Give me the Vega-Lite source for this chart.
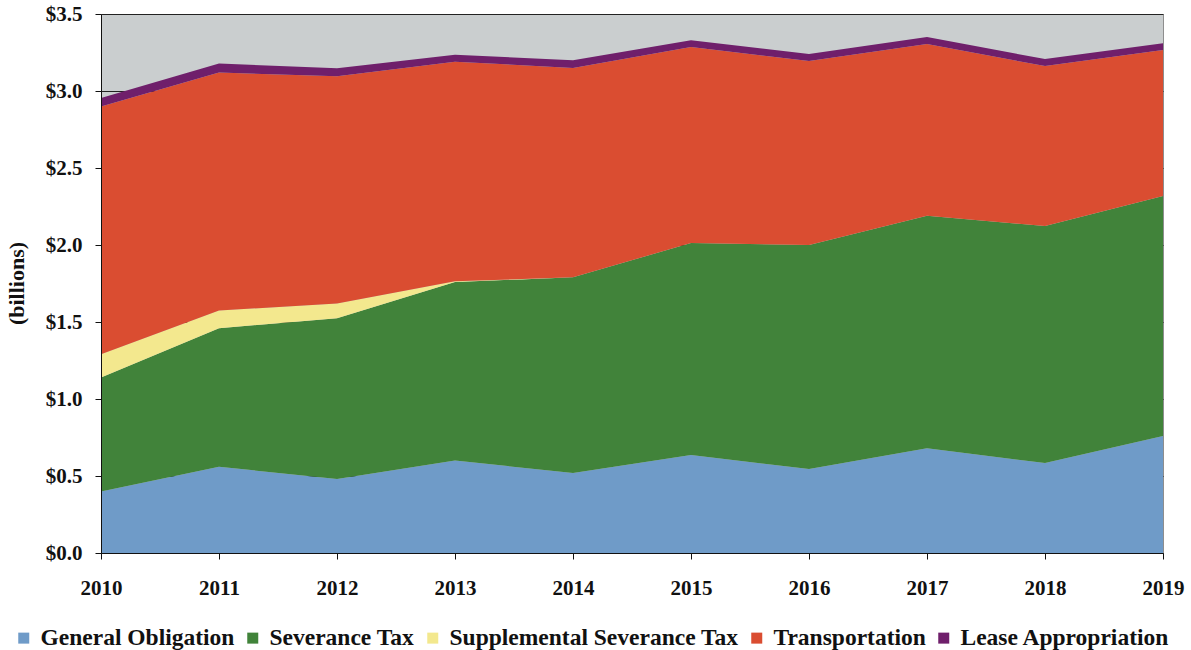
{
  "$schema": "https://vega.github.io/schema/vega-lite/v6.json",
  "width": 1062,
  "height": 539,
  "autosize": "none",
  "padding": {"left": 101, "top": 14, "right": 28, "bottom": 97},
  "background": "white",
  "config": {
    "view": {"fill": "#CACECF", "stroke": "#8E8E8E", "strokeWidth": 1},
    "font": "Liberation Serif",
    "legend": {
      "orient": "none",
      "legendX": -89,
      "legendY": 612,
      "direction": "horizontal",
      "symbolType": "square",
      "symbolSize": 121,
      "symbolStrokeWidth": 0,
      "labelFont": "Liberation Serif",
      "labelFontWeight": "bold",
      "labelFontSize": 23.5,
      "labelColor": "#111111",
      "labelOffset": 5,
      "columnPadding": 6,
      "labelLimit": 400
    }
  },
  "data": {
    "values": [
      {"year": 2010, "series": "General Obligation", "value": 0.40},
      {"year": 2010, "series": "Severance Tax", "value": 0.74},
      {"year": 2010, "series": "Supplemental Severance Tax", "value": 0.15},
      {"year": 2010, "series": "Transportation", "value": 1.61},
      {"year": 2010, "series": "Lease Appropriation", "value": 0.055},
      {"year": 2011, "series": "General Obligation", "value": 0.56},
      {"year": 2011, "series": "Severance Tax", "value": 0.90},
      {"year": 2011, "series": "Supplemental Severance Tax", "value": 0.115},
      {"year": 2011, "series": "Transportation", "value": 1.545},
      {"year": 2011, "series": "Lease Appropriation", "value": 0.058},
      {"year": 2012, "series": "General Obligation", "value": 0.48},
      {"year": 2012, "series": "Severance Tax", "value": 1.045},
      {"year": 2012, "series": "Supplemental Severance Tax", "value": 0.095},
      {"year": 2012, "series": "Transportation", "value": 1.475},
      {"year": 2012, "series": "Lease Appropriation", "value": 0.053},
      {"year": 2013, "series": "General Obligation", "value": 0.60},
      {"year": 2013, "series": "Severance Tax", "value": 1.16},
      {"year": 2013, "series": "Supplemental Severance Tax", "value": 0.005},
      {"year": 2013, "series": "Transportation", "value": 1.425},
      {"year": 2013, "series": "Lease Appropriation", "value": 0.045},
      {"year": 2014, "series": "General Obligation", "value": 0.52},
      {"year": 2014, "series": "Severance Tax", "value": 1.27},
      {"year": 2014, "series": "Supplemental Severance Tax", "value": 0},
      {"year": 2014, "series": "Transportation", "value": 1.36},
      {"year": 2014, "series": "Lease Appropriation", "value": 0.05},
      {"year": 2015, "series": "General Obligation", "value": 0.636},
      {"year": 2015, "series": "Severance Tax", "value": 1.377},
      {"year": 2015, "series": "Supplemental Severance Tax", "value": 0},
      {"year": 2015, "series": "Transportation", "value": 1.273},
      {"year": 2015, "series": "Lease Appropriation", "value": 0.044},
      {"year": 2016, "series": "General Obligation", "value": 0.545},
      {"year": 2016, "series": "Severance Tax", "value": 1.455},
      {"year": 2016, "series": "Supplemental Severance Tax", "value": 0},
      {"year": 2016, "series": "Transportation", "value": 1.195},
      {"year": 2016, "series": "Lease Appropriation", "value": 0.045},
      {"year": 2017, "series": "General Obligation", "value": 0.68},
      {"year": 2017, "series": "Severance Tax", "value": 1.51},
      {"year": 2017, "series": "Supplemental Severance Tax", "value": 0},
      {"year": 2017, "series": "Transportation", "value": 1.115},
      {"year": 2017, "series": "Lease Appropriation", "value": 0.045},
      {"year": 2018, "series": "General Obligation", "value": 0.584},
      {"year": 2018, "series": "Severance Tax", "value": 1.539},
      {"year": 2018, "series": "Supplemental Severance Tax", "value": 0},
      {"year": 2018, "series": "Transportation", "value": 1.039},
      {"year": 2018, "series": "Lease Appropriation", "value": 0.045},
      {"year": 2019, "series": "General Obligation", "value": 0.76},
      {"year": 2019, "series": "Severance Tax", "value": 1.558},
      {"year": 2019, "series": "Supplemental Severance Tax", "value": 0},
      {"year": 2019, "series": "Transportation", "value": 0.948},
      {"year": 2019, "series": "Lease Appropriation", "value": 0.044}
    ]
  },
  "transform": [
    {"calculate": "indexof(['General Obligation','Severance Tax','Supplemental Severance Tax','Transportation','Lease Appropriation'], datum.series)", "as": "ord"}
  ],
  "layer": [
    {
      "mark": {"type": "area", "interpolate": "linear"},
      "encoding": {
        "x": {
          "field": "year", "type": "quantitative",
          "scale": {"domain": [2010, 2019], "nice": false, "zero": false},
          "axis": null
        },
        "y": {
          "field": "value", "type": "quantitative", "stack": "zero",
          "scale": {"domain": [0, 3.5], "nice": false},
          "axis": {
            "values": [0, 0.5, 1, 1.5, 2, 2.5, 3, 3.5],
            "grid": true, "gridColor": "#222222", "gridWidth": 1,
            "labels": false, "ticks": false, "domain": false, "title": null,
            "zindex": 0
          }
        },
        "color": {
          "field": "series", "type": "nominal",
          "scale": {
            "domain": ["General Obligation", "Severance Tax", "Supplemental Severance Tax", "Transportation", "Lease Appropriation"],
            "range": ["#6F9BC8", "#41833A", "#F3E88E", "#DA4D31", "#6F1F6B"]
          },
          "legend": {"title": null}
        },
        "order": {"field": "ord", "type": "quantitative"}
      }
    },
    {
      "mark": {"type": "area", "opacity": 0},
      "encoding": {
        "x": {
          "field": "year", "type": "quantitative",
          "scale": {"domain": [2010, 2019], "nice": false, "zero": false},
          "axis": {
            "values": [2010, 2011, 2012, 2013, 2014, 2015, 2016, 2017, 2018, 2019],
            "format": "d", "title": null, "grid": false,
            "labelFont": "Liberation Serif", "labelFontWeight": "bold", "labelFontSize": 21,
            "labelColor": "#111111", "labelPadding": 18,
            "tickSize": 6, "tickColor": "#111111", "domainColor": "#111111",
            "labelFlush": false, "zindex": 1
          }
        },
        "y": {
          "field": "value", "type": "quantitative", "stack": "zero",
          "scale": {"domain": [0, 3.5], "nice": false},
          "axis": {
            "orient": "left",
            "values": [0, 0.5, 1, 1.5, 2, 2.5, 3, 3.5],
            "format": "$.1f", "grid": false,
            "labelFont": "Liberation Serif", "labelFontWeight": "bold", "labelFontSize": 21,
            "labelColor": "#111111", "labelPadding": 13,
            "tickSize": 6, "tickColor": "#111111", "domainColor": "#111111",
            "title": "(billions)", "titleFont": "Liberation Serif", "titleFontWeight": "bold",
            "titleFontSize": 22, "titleColor": "#111111", "titleX": -73, "titleY": 269,
            "zindex": 1
          }
        },
        "order": {"field": "ord", "type": "quantitative"}
      }
    }
  ],
  "resolve": {"axis": {"x": "independent", "y": "independent"}}
}
